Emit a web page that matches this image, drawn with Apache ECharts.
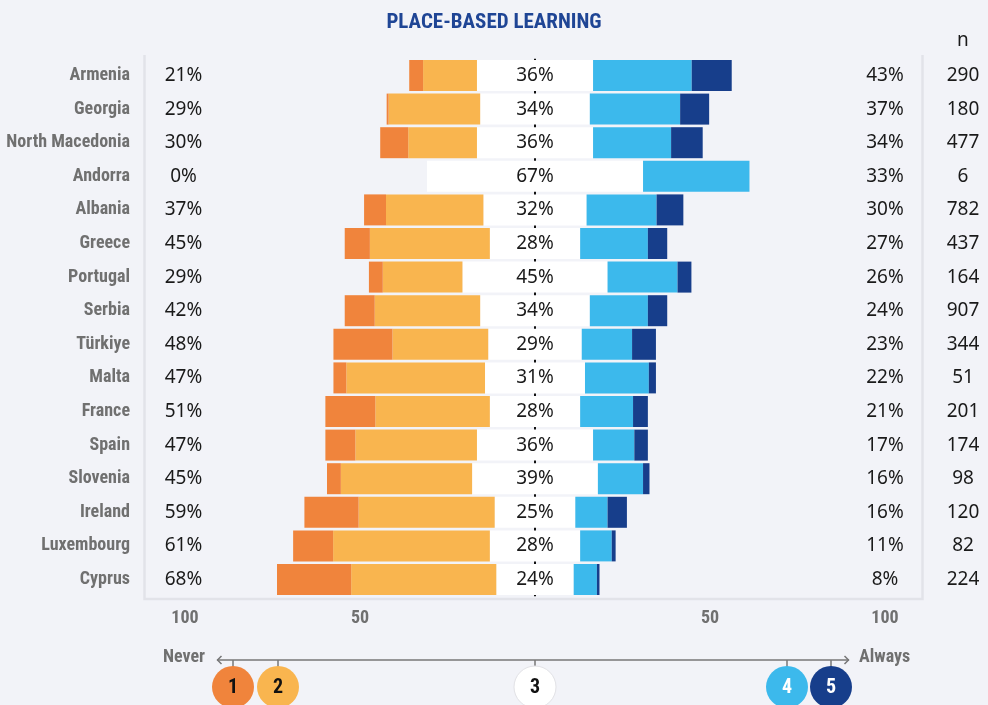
<!DOCTYPE html>
<html>
<head>
<meta charset="utf-8">
<script src="https://cdn.jsdelivr.net/npm/echarts@6/dist/echarts.min.js"></script>
<style>
  html, body { margin: 0; padding: 0; background: #f2f3f8; }
  #chart { width: 988px; height: 705px; }
</style>
</head>
<body>
<div id="chart"></div>
<script>
// Place-based learning: share of answers per country on a 1 (never) .. 5 (always) scale
const countries = ['Armenia', 'Georgia', 'North Macedonia', 'Andorra', 'Albania', 'Greece', 'Portugal', 'Serbia',
  'Türkiye', 'Malta', 'France', 'Spain', 'Slovenia', 'Ireland', 'Luxembourg', 'Cyprus'];
const never   = [4.3, 0.6, 8.7, 0, 6.8, 7.8, 4.3, 9.3, 18.3, 4.0, 15.5, 9.3, 4.3, 16.8, 12.4, 23.0];
const rarely  = [16.7, 28.4, 21.3, 0, 30.2, 37.2, 24.7, 32.7, 29.7, 43.0, 35.5, 37.7, 40.7, 42.2, 48.6, 45.0];
const neutral = [36, 34, 36, 67, 32, 28, 45, 34, 29, 31, 28, 36, 39, 25, 28, 24];
const often   = [30.6, 28, 24.2, 33, 21.7, 21, 21.7, 18, 15.6, 19.8, 16.4, 12.8, 14, 10, 9.8, 7.2];
const always  = [12.4, 9, 9.8, 0, 8.3, 6, 4.3, 6, 7.4, 2.2, 4.6, 4.2, 2, 6, 1.2, 0.8];
const respondents = [290, 180, 477, 6, 782, 437, 164, 907, 344, 51, 201, 174, 98, 120, 82, 224];
const scaleTicks = [-100, -50, 50, 100];

const COLORS = { never: '#f0843c', rarely: '#f9b54f', neutral: '#ffffff', often: '#3cb9ec', always: '#173e8b' };
const condensed = '"Roboto Condensed",Roboto,"DejaVu Sans Condensed",sans-serif';
const plain = '"Noto Sans","Open Sans",sans-serif';
const grey = '#707070';

const lowShare  = never.map((v, i) => Math.round(v + rarely[i]));
const highShare = often.map((v, i) => Math.round(v + always[i]));

// category axis used only to print one column of text per row
function textColumn(position, offset, texts) {
  return {
    type: 'category', gridIndex: 0, data: countries, inverse: true,
    position, offset,
    axisLine: { show: false }, axisTick: { show: false }, splitLine: { show: false },
    axisLabel: {
      interval: 0, margin: 0, align: 'center',
      fontFamily: plain, fontSize: 19, color: '#1a1a1a',
      formatter: (v, i) => texts[i]
    }
  };
}

function barSeries(name, values, color, extra) {
  return Object.assign({
    name, type: 'bar', stack: 'total', barWidth: 31,
    xAxisIndex: 0, yAxisIndex: 0,
    data: values, itemStyle: { color },
    emphasis: { disabled: true }, silent: true
  }, extra || {});
}

const chart = echarts.init(document.getElementById('chart'));

// decorative scale legend under the axis
const legendY = 660, dotY = 687, dotR = 21;
const dots = [
  { x: 233, fill: COLORS.never, text: '1', tc: '#111' },
  { x: 278, fill: COLORS.rarely, text: '2', tc: '#111' },
  { x: 535, fill: '#ffffff', text: '3', tc: '#111', stroke: '#e2e2e6' },
  { x: 787, fill: COLORS.often, text: '4', tc: '#ffffff' },
  { x: 831, fill: COLORS.always, text: '5', tc: '#ffffff' }
];
const graphics = [
  { type: 'polyline', silent: true, shape: { points: [[144.5, 55], [144.5, 599], [922.5, 599], [922.5, 55]] },
    style: { stroke: '#e2e3e9', lineWidth: 2.5, fill: null } },
  { type: 'text', left: 957, top: 31, silent: true,
    style: { text: 'n', fontFamily: plain, fontSize: 19, fill: '#1a1a1a' } },
  { type: 'line', silent: true, shape: { x1: 217, y1: legendY, x2: 849, y2: legendY },
    style: { stroke: '#777', lineWidth: 1.5 } },
  { type: 'polyline', silent: true, shape: { points: [[221.5, legendY - 4], [217.5, legendY], [221.5, legendY + 4]] },
    style: { stroke: '#777', lineWidth: 1.5, fill: null } },
  { type: 'polyline', silent: true, shape: { points: [[844.5, legendY - 4], [848.5, legendY], [844.5, legendY + 4]] },
    style: { stroke: '#777', lineWidth: 1.5, fill: null } },
  { type: 'text', silent: true, x: 205, y: legendY - 3,
    style: { text: 'Never', align: 'right', verticalAlign: 'middle', fontFamily: condensed, fontWeight: 'bold', fontSize: 18, fill: grey } },
  { type: 'text', silent: true, x: 859, y: legendY - 3,
    style: { text: 'Always', align: 'left', verticalAlign: 'middle', fontFamily: condensed, fontWeight: 'bold', fontSize: 18, fill: grey } }
];
dots.forEach(d => {
  graphics.push({ type: 'line', silent: true, shape: { x1: d.x, y1: legendY, x2: d.x, y2: legendY + 7 },
    style: { stroke: '#777', lineWidth: 1.5 } });
  graphics.push({ type: 'circle', silent: true, shape: { cx: d.x, cy: dotY, r: dotR },
    style: { fill: d.fill, stroke: d.stroke || null, lineWidth: 1 } });
  graphics.push({ type: 'text', silent: true, x: d.x, y: dotY + 1,
    style: { text: d.text, align: 'center', verticalAlign: 'middle', fontFamily: condensed, fontWeight: 'bold', fontSize: 20, fill: d.tc } });
});

chart.setOption({
  animation: false,
  backgroundColor: '#f2f3f8',
  title: {
    text: 'PLACE-BASED LEARNING', left: 'center', top: 7,
    textStyle: { fontFamily: condensed, fontWeight: 'bold', fontSize: 21, color: '#1f4595' }
  },
  grid: [
    { left: 148, width: 774, top: 58.7, height: 537.6, containLabel: false, outerBoundsMode: 'none' },
    { left: 185, width: 700, top: 600, height: 1, containLabel: false, outerBoundsMode: 'none' }
  ],
  xAxis: [
    {
      type: 'value', gridIndex: 0, min: -120, max: 120, interval: 120,
      axisLine: { show: false }, axisTick: { show: false }, axisLabel: { show: false },
      splitLine: { show: true, showMinLine: false, showMaxLine: false, lineStyle: { color: '#111', width: 2 } }
    },
    {
      type: 'value', gridIndex: 1, min: -100, max: 100, interval: 50,
      axisLine: { show: false }, axisTick: { show: false }, splitLine: { show: false },
      axisLabel: {
        margin: 8, fontFamily: condensed, fontWeight: 'bold', fontSize: 18, color: grey,
        formatter: v => scaleTicks.indexOf(v) >= 0 ? String(Math.abs(v)) : ''
      }
    }
  ],
  yAxis: [
    {
      type: 'category', gridIndex: 0, data: countries, inverse: true,
      axisLine: { show: false }, axisTick: { show: false }, splitLine: { show: false },
      axisLabel: { interval: 0, margin: 18, fontFamily: condensed, fontWeight: 'bold', fontSize: 18, color: grey }
    },
    textColumn('left', -35.5, lowShare.map(v => v + '%')),
    textColumn('right', -37, highShare.map(v => v + '%')),
    textColumn('right', 41, respondents.map(String)),
    { type: 'value', gridIndex: 1, show: false }
  ],
  series: [
    barSeries('3 (left half)', neutral.map(v => -v / 2), COLORS.neutral),
    barSeries('2', rarely.map(v => -v), COLORS.rarely),
    barSeries('1', never.map(v => -v), COLORS.never),
    barSeries('3', neutral.map(v => v / 2), COLORS.neutral, {
      label: {
        show: true, position: [0, '50%'], align: 'center', verticalAlign: 'middle',
        fontFamily: plain, fontSize: 19, color: '#1a1a1a',
        formatter: p => neutral[p.dataIndex] + '%'
      }
    }),
    barSeries('4', often, COLORS.often),
    barSeries('5', always, COLORS.always)
  ],
  graphic: graphics
});
</script>
</body>
</html>
